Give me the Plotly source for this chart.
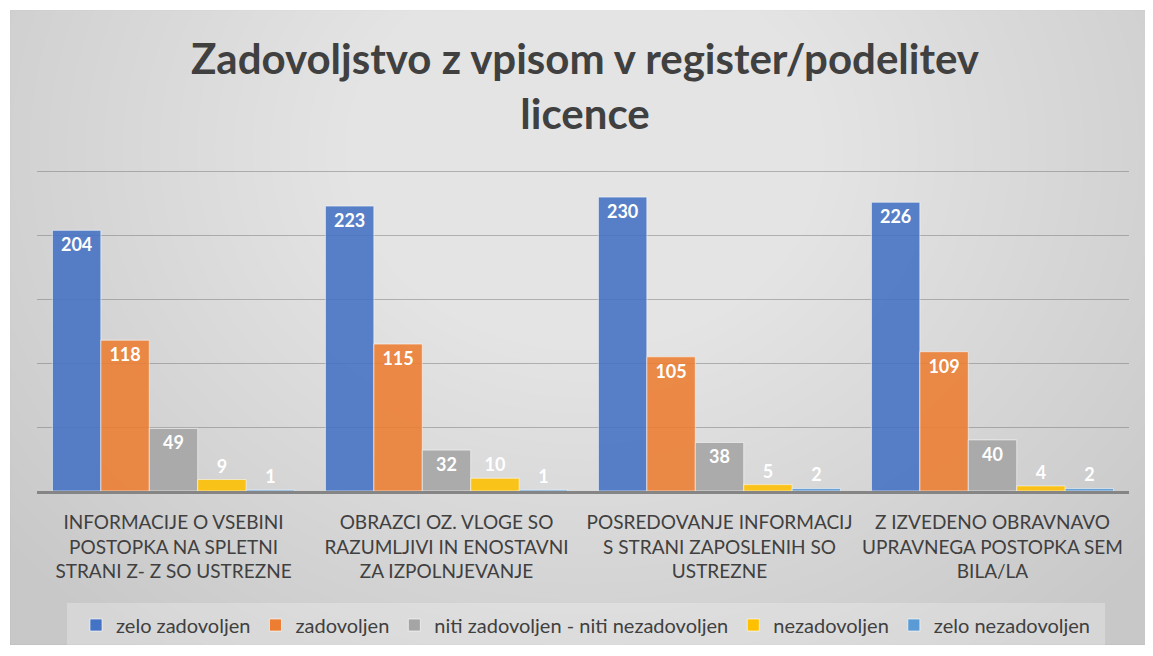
import plotly.graph_objects as go

categories = [
    "INFORMACIJE O VSEBINI<br>POSTOPKA NA SPLETNI<br>STRANI Z- Z SO USTREZNE",
    "OBRAZCI OZ. VLOGE SO<br>RAZUMLJIVI IN ENOSTAVNI<br>ZA IZPOLNJEVANJE",
    "POSREDOVANJE INFORMACIJ<br>S STRANI ZAPOSLENIH SO<br>USTREZNE",
    "Z IZVEDENO OBRAVNAVO<br>UPRAVNEGA POSTOPKA SEM<br>BILA/LA",
]
zelo_zadovoljen = [204, 223, 230, 226]
zadovoljen = [118, 115, 105, 109]
niti = [49, 32, 38, 40]
nezadovoljen = [9, 10, 5, 4]
zelo_nezadovoljen = [1, 1, 2, 2]

series = [
    ("zelo zadovoljen", zelo_zadovoljen, "#4472C4"),
    ("zadovoljen", zadovoljen, "#ED7D31"),
    ("niti zadovoljen - niti nezadovoljen", niti, "#A5A5A5"),
    ("nezadovoljen", nezadovoljen, "#FFC000"),
    ("zelo nezadovoljen", zelo_nezadovoljen, "#5B9BD5"),
]

# page has an 8px body margin, so work in page pixels and shift back
OFF = 8
W, H = 1153, 656
plot_l, plot_r, plot_t, plot_b = 37, 1129, 169, 491
L, T = plot_l - OFF, plot_t - OFF
R, B = W - (plot_r - OFF), H - (plot_b - OFF)
pw, ph = W - L - R, H - T - B

def px(x):
    return (x - OFF - L) / pw

def py(y):
    return (H - B - (y - OFF)) / ph

fig = go.Figure()
for name, vals, col in series:
    pos = ["inside" if v >= 20 else "outside" for v in vals]
    fig.add_trace(go.Bar(
        x=categories, y=vals, name=name,
        marker=dict(color=col, opacity=0.88, line=dict(color="rgba(255,255,255,0.6)", width=1)),
        text=vals, texttemplate="%{y}", textposition=pos,
        insidetextanchor="end", textangle=0,
        insidetextfont=dict(family="Lato", size=18, color="white", weight="bold"),
        outsidetextfont=dict(family="Lato", size=18, color="white", weight="bold"),
        cliponaxis=False,
    ))

# frame + soft radial gradient background
shapes = [dict(type="rect", xref="paper", yref="paper", layer="below",
               x0=px(10), x1=px(1147), y0=py(645), y1=py(10),
               fillcolor="#c8c8c8", line=dict(color="#bdbdbd", width=1))]
cx, cy = 585, 150
n = 40
for i in range(n):
    f = 1 - i / n
    rx, ry = 740 * f, 620 * f
    shapes.append(dict(type="circle", xref="paper", yref="paper", layer="below",
                       x0=px(cx - rx), x1=px(cx + rx), y0=py(cy + ry), y1=py(cy - ry),
                       fillcolor="white", opacity=0.035, line=dict(width=0)))
# legend box
shapes.append(dict(type="rect", xref="paper", yref="paper", layer="below",
                   x0=px(67), x1=px(1105), y0=py(645), y1=py(603),
                   fillcolor="rgba(255,255,255,0.25)", line=dict(width=0)))
# re-paint page outside the frame
for x0, x1, y0, y1 in [(0, 10, 0, H + OFF), (1147, W + OFF, 0, H + OFF),
                       (0, W + OFF, 0, 10), (0, W + OFF, 645, H + OFF)]:
    shapes.append(dict(type="rect", xref="paper", yref="paper", layer="below",
                       x0=px(x0), x1=px(x1), y0=py(y1), y1=py(y0),
                       fillcolor="white", line=dict(width=0)))

fig.update_layout(
    width=W, height=H,
    margin=dict(l=L, r=R, t=T, b=B, autoexpand=False),
    paper_bgcolor="white", plot_bgcolor="rgba(0,0,0,0)",
    barmode="group", bargap=0.113, bargroupgap=0,
    title=dict(text="Zadovoljstvo z vpisom v register/podelitev<br>licence",
               x=(585 - OFF) / W, xanchor="center", y=1 - (74 - OFF) / H, yanchor="middle",
               font=dict(family="Lato", size=42, color="#404040", weight="bold")),
    font=dict(family="Lato", color="#404040"),
    showlegend=True,
    legend=dict(orientation="h", x=px(586), xanchor="center", y=py(625), yanchor="middle",
                font=dict(family="Lato", size=20, color="#404040"),
                bgcolor="rgba(0,0,0,0)", traceorder="normal", itemwidth=30),
    shapes=shapes,
    xaxis=dict(showline=True, linecolor="#858585", linewidth=3, ticks="",
               ticklabelstandoff=12,
               tickfont=dict(family="Lato", size=19, color="#404040")),
    yaxis=dict(range=[0, 252], dtick=50, showticklabels=False, zeroline=False,
               showgrid=True, gridcolor="rgba(110,110,110,0.45)", gridwidth=1),
)

fig.write_html("out.html")
